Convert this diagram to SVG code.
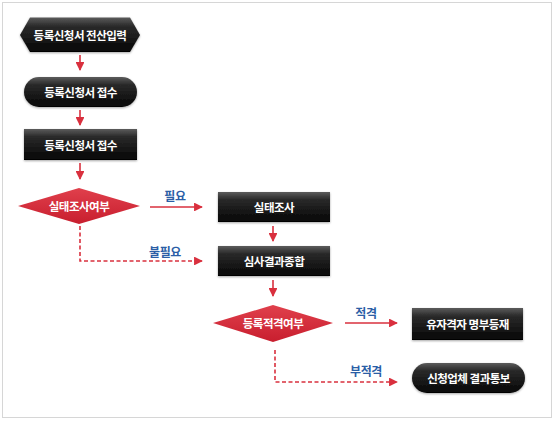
<svg xmlns="http://www.w3.org/2000/svg" width="554" height="421" viewBox="0 0 554 421">
<defs>
<linearGradient id="dark" x1="0" y1="0" x2="0" y2="1">
<stop offset="0" stop-color="#5c5c5c"/>
<stop offset="0.25" stop-color="#2a2a2a"/>
<stop offset="1" stop-color="#050505"/>
</linearGradient>
<linearGradient id="red" x1="0" y1="0" x2="0" y2="1">
<stop offset="0" stop-color="#e0404c"/>
<stop offset="1" stop-color="#c81e2e"/>
</linearGradient>
<filter id="sh" x="-10%" y="-20%" width="120%" height="150%">
<feDropShadow dx="0" dy="1" stdDeviation="1" flood-color="#000" flood-opacity="0.35"/>
</filter>
<marker id="ah" viewBox="0 0 10 10" refX="9" refY="5" markerWidth="5.5" markerHeight="5.5" orient="auto" markerUnits="strokeWidth">
<path d="M0,0 L10,5 L0,10 Z" fill="#d9303e"/>
</marker>
</defs>
<style>
.dk{fill:url(#dark);filter:url(#sh)}
.rd{fill:url(#red)}
.t{font-family:"Noto Sans CJK KR","Noto Sans",sans-serif;font-size:11.5px;font-weight:bold;fill:#fff;text-anchor:middle;dominant-baseline:central;letter-spacing:-0.5px}
.lb{font-family:"Noto Sans CJK KR","Noto Sans",sans-serif;font-size:12px;font-weight:bold;fill:#2b5ea6;text-anchor:middle;dominant-baseline:central;letter-spacing:-0.4px}
.c{fill:none;stroke:#d9303e;stroke-width:1.6;marker-end:url(#ah)}
.d{stroke-dasharray:4,2.5}
</style>
<rect x="2.5" y="2.5" width="549" height="415" fill="#fff" stroke="#d6d6d6"/>
<g id="connectors">
<line class="c" x1="80" y1="55" x2="80" y2="70"/>
<line class="c" x1="80" y1="110" x2="80" y2="125"/>
<line class="c" x1="80" y1="163" x2="80" y2="179"/>
<line class="c" x1="150" y1="207" x2="202" y2="207"/>
<line class="c" x1="273" y1="226" x2="273" y2="241"/>
<polyline class="c d" points="80,226 80,261 202,261"/>
<line class="c" x1="273" y1="280" x2="273" y2="296"/>
<line class="c" x1="345" y1="323" x2="397" y2="323"/>
<polyline class="c d" points="275,350 275,382 397,382"/>
<text class="lb" x="175" y="195">필요</text>
<text class="lb" x="165" y="251">불필요</text>
<text class="lb" x="366" y="312">적격</text>
<text class="lb" x="366" y="370">부적격</text>
</g>
<g id="n1">
<polygon class="dk" points="20,35 30,17.5 130,17.5 140,35 130,52 30,52"/>
<text class="t" x="80" y="35">등록신청서 전산입력</text>
</g>
<g id="n2">
<rect class="dk" x="24" y="77" width="113" height="30" rx="15"/>
<text class="t" x="80.5" y="92">등록신청서 접수</text>
</g>
<g id="n3">
<rect class="dk" x="24" y="129" width="113" height="31"/>
<text class="t" x="80.5" y="145">등록신청서 접수</text>
</g>
<g id="n4">
<polygon class="rd" points="18,206 79,188 140,206 79,224"/>
<text class="t" x="79" y="206">실태조사여부</text>
</g>
<g id="n5">
<rect class="dk" x="218" y="192" width="112" height="30"/>
<text class="t" x="274" y="207">실태조사</text>
</g>
<g id="n6">
<rect class="dk" x="218" y="246" width="112" height="30"/>
<text class="t" x="274" y="261">심사결과종합</text>
</g>
<g id="n7">
<polygon class="rd" points="213,323 273,305 333,323 273,342"/>
<text class="t" x="273" y="323">등록적격여부</text>
</g>
<g id="n8">
<rect class="dk" x="412" y="308" width="111" height="32"/>
<text class="t" x="467.5" y="324">유자격자 명부등재</text>
</g>
<g id="n9">
<rect class="dk" x="412" y="363" width="113" height="30" rx="15"/>
<text class="t" x="468.5" y="378">신청업체 결과통보</text>
</g>
</svg>
